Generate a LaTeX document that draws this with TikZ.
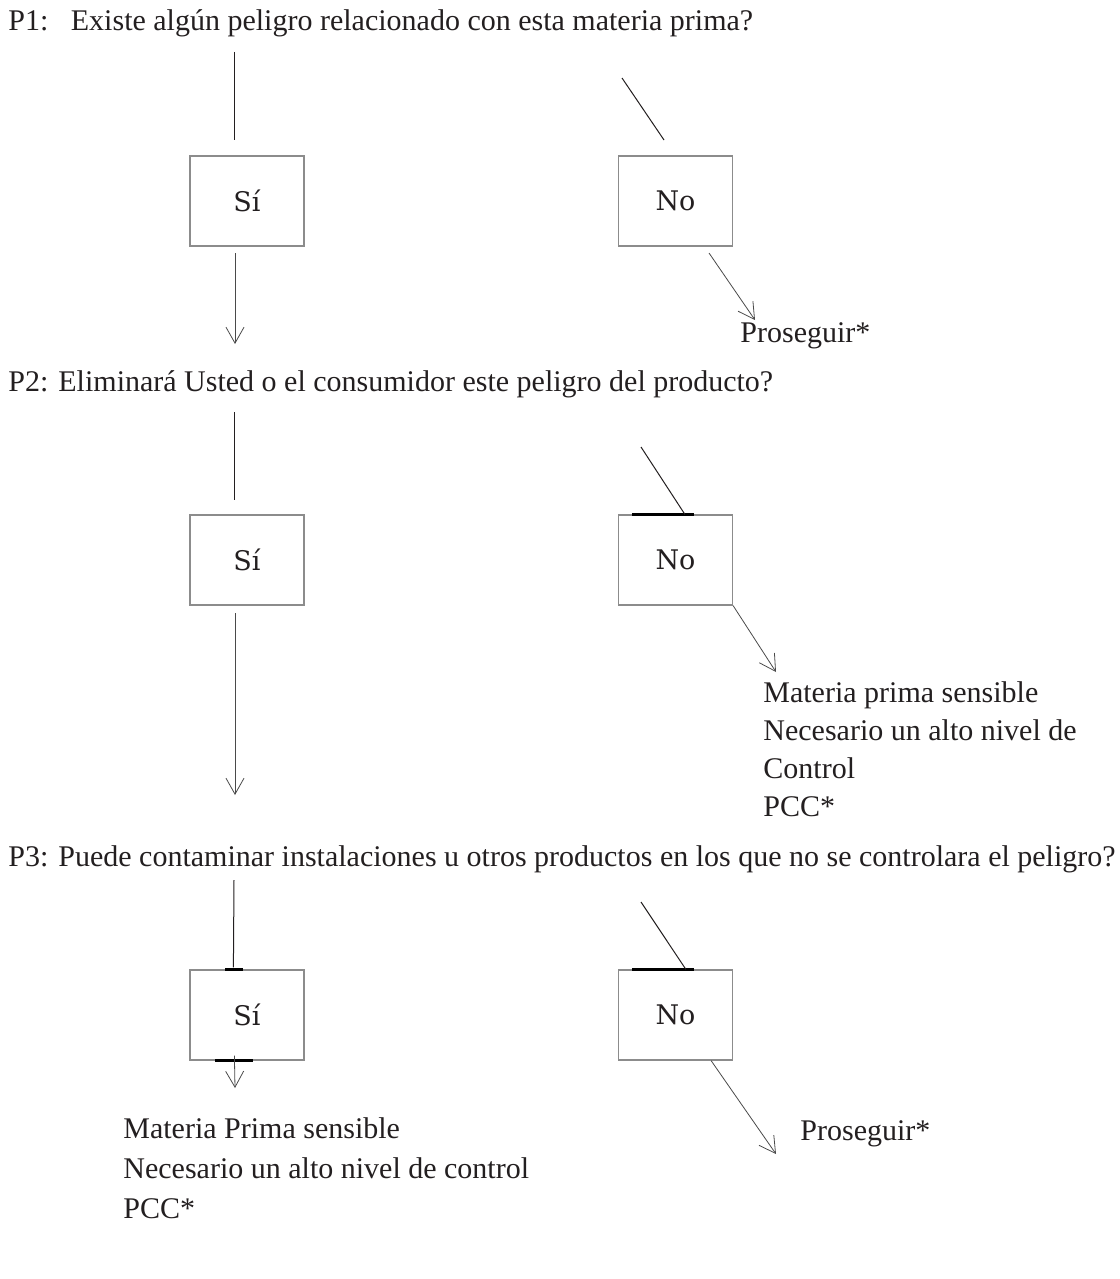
\documentclass[tikz,border=0pt]{standalone}
\usepackage{fontspec}
\setmainfont{Liberation Serif}
\newfontfamily\boxfont{DejaVu Serif}
\usetikzlibrary{arrows.meta, calc}
\definecolor{ink}{HTML}{231F20}
\definecolor{frame}{HTML}{8C8C8C}
\definecolor{wire}{HTML}{4A4A4A}
\tikzset{
  question/.style={anchor=base west, inner sep=0pt, text=ink,
                   font=\fontsize{15}{19}\selectfont},
  outcome/.style={anchor=north west, inner sep=0pt, align=left, text=ink,
                  font=\fontsize{15}{19}\selectfont},
  answer/.style={draw=frame, line width=0.6pt, minimum width=57pt,
                 minimum height=45pt, inner sep=0pt, text=ink,
                 font=\boxfont\fontsize{13.5}{16}\selectfont},
  stem/.style={draw=ink, line width=0.5pt},
  edgebar/.style={draw=black, line width=1.4pt},
  arr/.style={-{Straight Barb[length=8pt, width=9pt]}, draw=wire, line width=0.4pt},
}

\begin{document}
\begin{tikzpicture}[x=0.5pt, y=-0.5pt]
  \useasboundingbox (0,0) rectangle (1119,1279);

  % P1
  \node[question] (q1) at (8,31) {P1:\ \ \ Existe algún peligro relacionado con esta materia prima?};
  \node[answer] (s1) at (247,201) {Sí};
  \node[answer] (n1) at (675.5,201) {No};
  \coordinate (s1top) at (234,52);
  \coordinate (s1stem) at (234,140);
  \coordinate (n1top) at (622,78);
  \coordinate (n1stem) at (664,140);
  \coordinate (s1from) at (235,253);
  \coordinate (s1to) at (235,344);
  \coordinate (n1from) at (709,253);
  \coordinate (n1to) at (755,320);
  \node[question] (o1) at (740,342) {Proseguir*};
  \draw[stem] (s1top) -- (s1stem);
  \draw[stem] (n1top) -- (n1stem);
  \draw[arr] (s1from) -- (s1to);
  \draw[arr] (n1from) -- (n1to);

  % P2
  \node[question] (q2) at (8,391) {P2: Eliminará Usted o el consumidor este peligro del producto?};
  \node[answer] (s2) at (247,560) {Sí};
  \node[answer] (n2) at (675.5,560) {No};
  \coordinate (s2top) at (234,412);
  \coordinate (s2stem) at (234,500);
  \coordinate (n2top) at (641,447);
  \coordinate (s2from) at (235,613);
  \coordinate (s2to) at (235,795);
  \coordinate (n2to) at (776,672);
  \node[outcome] (o2) at (763,681)
    {Materia prima sensible\\Necesario un alto nivel de\\Control\\PCC*};
  \draw[stem] (s2top) -- (s2stem);
  \draw[edgebar] ($(n2.north west)+(14,0)$) -- ($(n2.north west)+(76,0)$);
  \draw[stem] (n2top) -- ($(n2.north west)+(67,0)$);
  \draw[arr] (s2from) -- (s2to);
  \draw[arr] (n2.south east) -- (n2to);

  % P3
  \node[question] (q3) at (8,866) {P3: Puede contaminar instalaciones u otros productos en los que no se controlara el peligro?};
  \node[answer] (s3) at (247,1015) {Sí};
  \node[answer] (n3) at (675.5,1015) {No};
  \coordinate (s3top) at (234,880);
  \coordinate (n3top) at (641,902);
  \coordinate (s3to) at (235,1088);
  \coordinate (n3to) at (776,1154);
  \draw[stem] (s3top) -- ($(s3.north west)+(44,-2)$);
  \draw[edgebar] ($(s3.north west)+(36,0)$) -- ($(s3.north west)+(54,0)$);
  \draw[edgebar] ($(s3.south west)+(26,0)$) -- ($(s3.south west)+(64,0)$);
  \draw[edgebar] ($(n3.north west)+(14,0)$) -- ($(n3.north west)+(76,0)$);
  \draw[stem] (n3top) -- ($(n3.north west)+(68,0)$);
  \draw[arr] ($(s3.south west)+(45,-5)$) -- (s3to);
  \draw[arr] ($(n3.south east)+(-22,0)$) -- (n3to);
  \node[outcome, font=\fontsize{15}{20}\selectfont] (o3) at (123,1117)
    {Materia Prima sensible\\Necesario un alto nivel de control\\PCC*};
  \node[question] (o4) at (800,1140) {Proseguir*};
\end{tikzpicture}
\end{document}
